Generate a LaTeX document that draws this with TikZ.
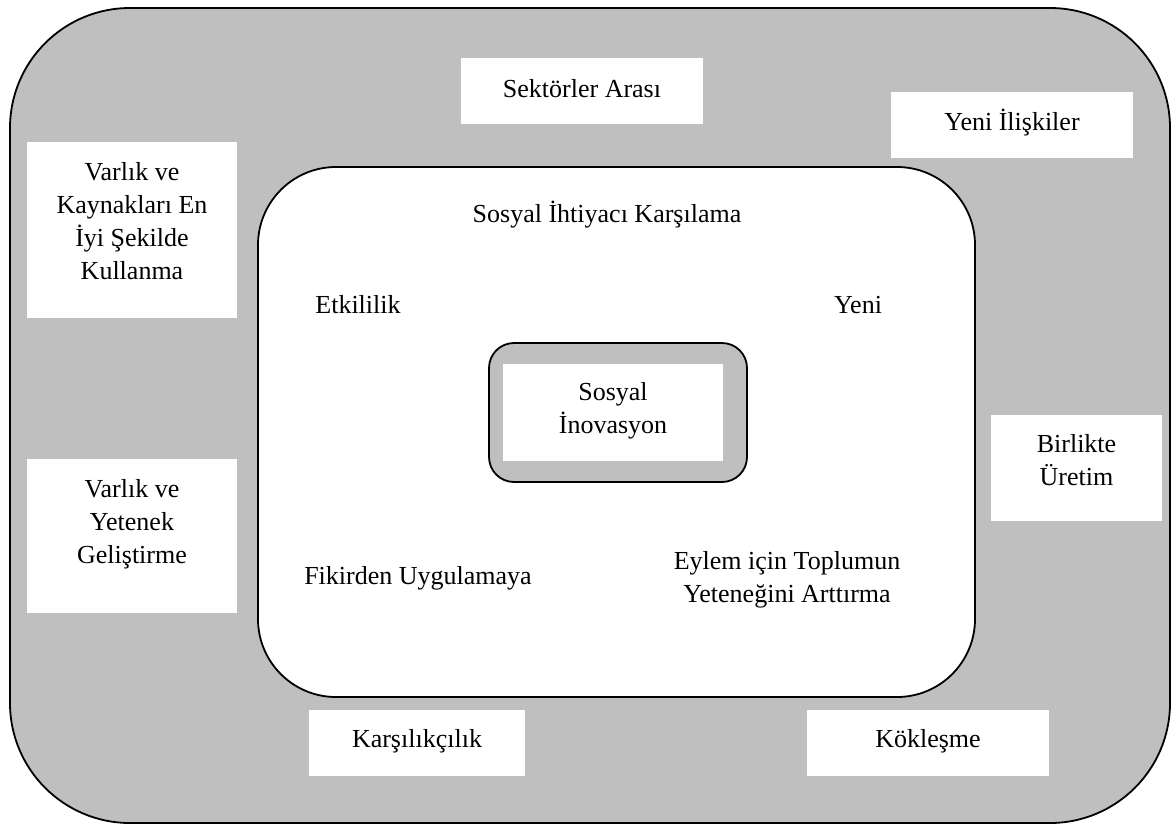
\documentclass[tikz,border=0pt]{standalone}
\usepackage{fontspec}
\setmainfont{Liberation Serif}
\definecolor{bggray}{RGB}{191,191,191}
\begin{document}
\begin{tikzpicture}[x=1pt,y=-1pt,
  wbox/.style={fill=white,draw=none,inner sep=0pt},
  txt/.style={align=center,inner sep=0pt,font=\fontsize{26}{33}\selectfont},
  frame/.style={draw=black,line width=1.8pt}]
\useasboundingbox (0,0) rectangle (1173,825);
% outer frame
\draw[frame,fill=bggray,rounded corners=120pt] (10,8) rectangle (1170,823);
% inner white frame
\draw[frame,fill=white,rounded corners=78pt] (258,167) rectangle (975,697);
% center box
\draw[frame,fill=bggray,rounded corners=25pt] (489,343) rectangle (747,482);
\node[wbox,minimum width=220pt,minimum height=97pt] (core) at (613,412.5) {};
\node[txt] (coretxt) at (613,411) {Sosyal\\İnovasyon};
% white label boxes on the gray ring
\node[wbox,minimum width=242pt,minimum height=66pt] (sa) at (582,91) {};
\node[txt] (satxt) at (582,89) {Sektörler Arası};
\node[wbox,minimum width=242pt,minimum height=66pt] (yi) at (1012,125) {};
\node[txt] (yitxt) at (1012,123) {Yeni İlişkiler};
\node[wbox,minimum width=210pt,minimum height=176pt] (vk) at (132,230) {};
\node[txt] (vktxt) at (132,221) {Varlık ve\\Kaynakları En\\İyi Şekilde\\Kullanma};
\node[wbox,minimum width=210pt,minimum height=154pt] (vy) at (132,536) {};
\node[txt] (vytxt) at (132,524) {Varlık ve\\Yetenek\\Geliştirme};
\node[wbox,minimum width=171pt,minimum height=106pt] (bu) at (1076.5,468) {};
\node[txt] (butxt) at (1076.5,460) {Birlikte\\Üretim};
\node[wbox,minimum width=216pt,minimum height=66pt] (ka) at (417,743) {};
\node[txt] (katxt) at (417,741) {Karşılıkçılık};
\node[wbox,minimum width=242pt,minimum height=66pt] (ko) at (928,743) {};
\node[txt] (kotxt) at (928,741) {Kökleşme};
% labels inside the white frame
\node[txt] (sik) at (607,215) {Sosyal İhtiyacı Karşılama};
\node[txt] (etk) at (358,305) {Etkililik};
\node[txt] (yen) at (858,305) {Yeni};
\node[txt] (fik) at (418,578) {Fikirden Uygulamaya};
\node[txt] (eyl) at (787,580) {Eylem için Toplumun\\Yeteneğini Arttırma};
\end{tikzpicture}
\end{document}
